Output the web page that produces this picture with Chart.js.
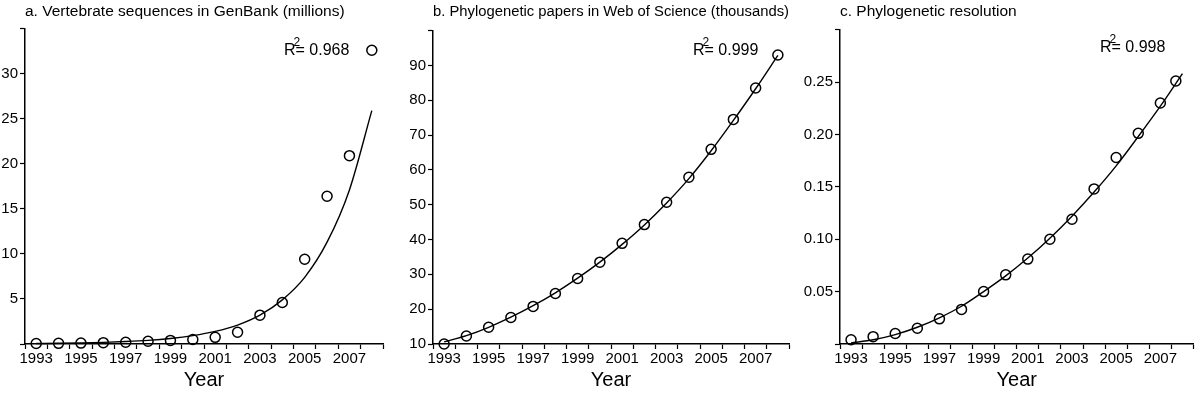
<!DOCTYPE html>
<html>
<head>
<meta charset="utf-8">
<script src="https://cdn.jsdelivr.net/npm/chart.js@4"></script>
<style>
  body { margin: 0; background: #fff; }
  .row { display: flex; width: 1200px; height: 405px; }
  canvas { display: block; }
</style>
</head>
<body>
<div class="row">
  <canvas id="seqChart" width="400" height="405"></canvas>
  <canvas id="paperChart" width="400" height="405"></canvas>
  <canvas id="resChart" width="400" height="405"></canvas>
</div>
<script>
// values
const years = [1993, 1994, 1995, 1996, 1997, 1998, 1999, 2000, 2001, 2002, 2003, 2004, 2005, 2006, 2007, 2008];
const yearLabels = [1993, 1995, 1997, 1999, 2001, 2003, 2005, 2007];

// a. vertebrate sequences (millions)
const seqValues = [0.05, 0.07, 0.1, 0.15, 0.2, 0.3, 0.4, 0.5, 0.74, 1.3, 3.2, 4.6, 9.4, 16.4, 20.9, 32.6];
const seqFit = [0.05, 0.077, 0.12, 0.18, 0.27, 0.4, 0.61, 0.93, 1.4, 2.1, 3.2, 4.9, 7.4, 11.3, 17.1, 25.9];

// b. phylogenetic papers (thousands)
const paperValues = [10.0, 12.3, 14.8, 17.6, 20.8, 24.5, 28.8, 33.5, 38.9, 44.3, 50.7, 57.9, 65.9, 74.5, 83.5, 93.0];
const paperFit = [10.6, 12.4, 14.8, 17.7, 21.0, 24.7, 28.9, 33.5, 38.6, 44.2, 50.5, 57.5, 65.5, 74.2, 83.3, 92.9];

// c. phylogenetic resolution
const resYears = [1993, 1994, 1995, 1996, 1997, 1998, 1999, 2000, 2001, 2002, 2003, 2004, 2005, 2006, 2007, 2007.7];
const resValues = [0.004, 0.007, 0.010, 0.015, 0.024, 0.033, 0.050, 0.066, 0.081, 0.100, 0.119, 0.148, 0.178, 0.201, 0.230, 0.251];
const resFit = [0.001, 0.004, 0.009, 0.016, 0.025, 0.036, 0.050, 0.065, 0.082, 0.101, 0.122, 0.145, 0.170, 0.198, 0.227, 0.258];

const FONT = "'Liberation Sans', Arial, Helvetica, sans-serif";

function toPoints(xs, ys) {
  return xs.map((x, i) => ({ x: x, y: ys[i] }));
}

// draws "R² = 0.xxx" with a raised 2
const rSquaredPlugin = {
  id: 'rSquared',
  afterDraw(chart, args, opts) {
    const ctx = chart.ctx;
    ctx.save();
    ctx.fillStyle = '#000';
    ctx.textBaseline = 'alphabetic';
    ctx.font = '16px ' + FONT;
    ctx.fillText('R', opts.x, opts.y);
    const w = ctx.measureText('R').width;
    ctx.fillText('= ' + opts.value, opts.x + w, opts.y);
    ctx.font = '12px ' + FONT;
    ctx.fillText('2', opts.x + w - 2, opts.y - 9);
    ctx.restore();
  }
};

function makePanel(id, cfg) {
  return new Chart(document.getElementById(id), {
    type: 'scatter',
    data: {
      datasets: [{
        type: 'line',
        data: toPoints(years, cfg.fit),
        borderColor: '#000',
        borderWidth: 1.4,
        pointRadius: 0,
        cubicInterpolationMode: 'monotone',
        fill: false,
        clip: false
      }, {
        data: toPoints(cfg.xs, cfg.values),
        pointRadius: 5,
        pointHoverRadius: 5,
        pointBorderWidth: 1.5,
        borderColor: '#000',
        backgroundColor: 'rgba(0,0,0,0)',
        showLine: false,
        clip: false
      }]
    },
    options: {
      responsive: false,
      animation: false,
      layout: { padding: { left: 0, right: cfg.padRight, top: 0, bottom: 0 } },
      plugins: {
        legend: { display: false },
        tooltip: { enabled: false },
        title: {
          display: true,
          text: cfg.title,
          align: 'start',
          fullSize: false,
          color: '#000',
          font: { family: FONT, size: 15.5, weight: 'normal' },
          padding: { top: 2, bottom: cfg.titleGap }
        },
        rSquared: cfg.r2
      },
      scales: {
        x: {
          type: 'linear',
          min: 1992.5,
          max: 2008.5,
          afterFit: s => { s.height = 61; },
          border: { display: true, color: '#000', width: 1.5 },
          grid: {
            drawOnChartArea: false,
            tickLength: 5,
            tickWidth: 1.2,
            tickColor: c => Number.isInteger(c.tick.value) ? 'rgba(0,0,0,0)' : '#000'
          },
          ticks: {
            stepSize: 0.5,
            autoSkip: false,
            maxRotation: 0,
            padding: 1,
            color: '#000',
            font: { family: FONT, size: 15 },
            callback: v => yearLabels.includes(v) ? String(v) : ''
          },
          title: {
            display: true,
            text: 'Year',
            color: '#000',
            font: { family: FONT, size: 20 },
            padding: { top: 0, bottom: 13 }
          }
        },
        y: {
          min: cfg.yMin,
          max: cfg.yMax,
          afterFit: s => { s.width = cfg.yWidth; },
          border: { display: true, color: '#000', width: 1.5 },
          grid: { drawOnChartArea: false, tickLength: 5, tickWidth: 1.2, tickColor: '#000' },
          ticks: {
            stepSize: cfg.yStep,
            padding: 2,
            color: '#000',
            font: { family: FONT, size: 15 },
            callback: (v, i, ticks) => {
              if (i === ticks.length - 1) return '';
              if (i === 0 && !cfg.showBottom) return '';
              return cfg.fmt(v);
            }
          }
        }
      }
    },
    plugins: [rSquaredPlugin]
  });
}

makePanel('seqChart', {
  title: 'a. Vertebrate sequences in GenBank (millions)',
  xs: years, values: seqValues, fit: seqFit,
  yMin: 0, yMax: 35, yStep: 5, yWidth: 25, showBottom: false,
  fmt: v => String(v),
  padRight: 17, titleGap: 8,
  r2: { value: '0.968', x: 284, y: 55 }
});

makePanel('paperChart', {
  title: 'b. Phylogenetic papers in Web of Science (thousands)',
  xs: years, values: paperValues, fit: paperFit,
  yMin: 10, yMax: 100, yStep: 10, yWidth: 33, showBottom: true,
  fmt: v => String(v),
  padRight: 11, titleGap: 10,
  r2: { value: '0.999', x: 293, y: 55 }
});

makePanel('resChart', {
  title: 'c. Phylogenetic resolution',
  xs: resYears, values: resValues, fit: resFit,
  yMin: 0, yMax: 0.3, yStep: 0.05, yWidth: 40, showBottom: false,
  fmt: v => v.toFixed(2),
  padRight: 4, titleGap: 9,
  r2: { value: '0.998', x: 300, y: 52 }
});
</script>
</body>
</html>
